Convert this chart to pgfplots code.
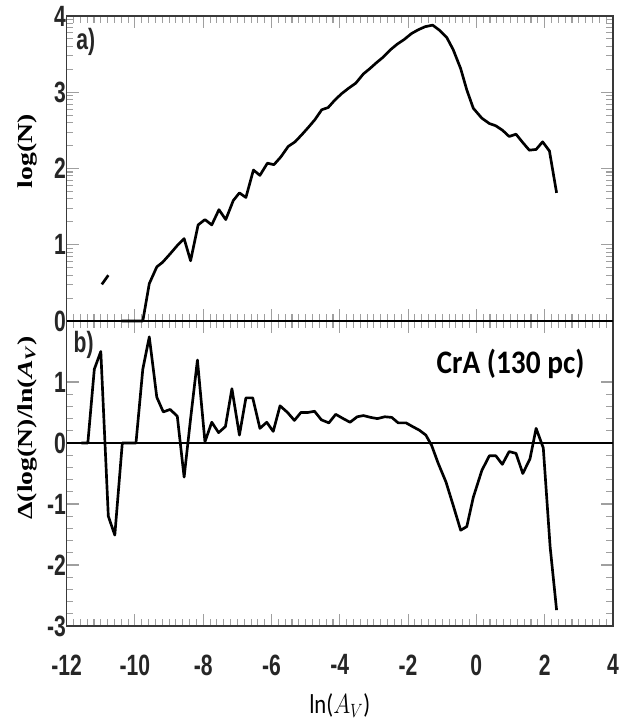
\documentclass[border=0pt]{standalone}
\usepackage{fontspec}
\usepackage{graphicx}
\usepackage{pgfplots}
\pgfplotsset{compat=1.18}
\newfontfamily\tickfont[FakeStretch=0.72]{Liberation Sans}
\newfontfamily\serfont{Liberation Serif}
\newfontfamily\calfont{Carlito}

\pgfplotsset{
  panel/.style={
    scale only axis, width=409.7pt, height=228.75pt,
    xmin=-12, xmax=4,
    xtick={-12,-10,...,4}, minor x tick num=9,
    tick align=inside,
    major tick length=9pt, minor tick length=5pt,
    tick style={gray!75, line width=0.8pt},
    axis line style={gray!45!black, line width=1pt},
    tick label style={font=\tickfont\bfseries\fontsize{22}{24}\selectfont, text=black!85},
    xticklabel style={yshift=-18pt},
    yticklabel style={xshift=3pt},
    /pgf/number format/assume math mode=true,
    clip=false,
  }
}

\begin{document}
\begin{tikzpicture}
% ---------------- bottom panel b)
\begin{axis}[panel,
  at={(0pt,0pt)}, anchor=south west,
  ymin=-3, ymax=2,
  ytick={-3,-2,-1,0,1}, minor y tick num=4,
  xlabel={\scalebox{1}[1.2]{\calfont\fontsize{17}{19}\selectfont ln($A_V$)}},
  xlabel style={at={(axis description cs:0.5,-0.262)}, anchor=center},
  ylabel={\scalebox{1.3}[1]{\serfont\bfseries\fontsize{16}{18}\selectfont Δ(log(N)/ln(\textit{A}\textsubscript{\textit{V}})}},
  ylabel style={at={(axis description cs:-0.0727,0.65)}, anchor=center},
]
\addplot[black, line width=1.6pt] coordinates {(-12,0) (4,0)};
\addplot[black, line width=2pt, line join=round] coordinates {
(-11.57,0) (-11.38,0) (-11.19,1.21) (-11.00,1.50) (-10.78,-1.20) (-10.59,-1.51)
(-10.37,0) (-9.97,0) (-9.77,1.21) (-9.58,1.74) (-9.36,0.75) (-9.17,0.51)
(-8.97,0.55) (-8.76,0.44) (-8.56,-0.56) (-8.37,0.40) (-8.17,1.36) (-7.95,0.02)
(-7.75,0.34) (-7.55,0.17) (-7.35,0.27) (-7.16,0.89) (-6.94,0.13) (-6.75,0.74)
(-6.55,0.74) (-6.34,0.24) (-6.14,0.34) (-5.95,0.19) (-5.75,0.61) (-5.53,0.50)
(-5.33,0.37) (-5.14,0.50) (-4.94,0.50) (-4.74,0.52) (-4.54,0.38) (-4.32,0.33)
(-4.12,0.47) (-3.90,0.40) (-3.70,0.34) (-3.49,0.43) (-3.31,0.45) (-3.10,0.42)
(-2.90,0.40) (-2.68,0.43) (-2.48,0.42) (-2.29,0.33) (-2.06,0.33) (-1.87,0.27)
(-1.67,0.21) (-1.48,0.13) (-1.31,-0.04) (-1.12,-0.33) (-0.89,-0.64) (-0.68,-1.02)
(-0.46,-1.43) (-0.28,-1.37) (-0.09,-0.89) (0.16,-0.45) (0.38,-0.21) (0.57,-0.21)
(0.76,-0.35) (0.96,-0.14) (1.16,-0.17) (1.36,-0.50) (1.57,-0.26) (1.75,0.24)
(1.96,-0.08) (2.16,-1.70) (2.35,-2.74)
};
\node[font=\tickfont\bfseries\fontsize{22}{24}\selectfont, text=black!85] at (rel axis cs:0.031,0.921) {b)};
\node at (axis cs:1.0,1.29) {\scalebox{1}[1.12]{\calfont\bfseries\fontsize{22}{24}\selectfont CrA (130 pc)}};
\end{axis}
% ---------------- top panel a)
\begin{axis}[panel,
  at={(0pt,228.75pt)}, anchor=south west,
  ymin=0, ymax=4,
  ytick={0,1,2,3,4},
  minor ytick={0.301,0.477,0.602,0.699,0.778,0.845,0.903,0.954,
               1.301,1.477,1.602,1.699,1.778,1.845,1.903,1.954,
               2.301,2.477,2.602,2.699,2.778,2.845,2.903,2.954,
               3.301,3.477,3.602,3.699,3.778,3.845,3.903,3.954},
  xticklabels={},
  ylabel={\scalebox{1.3}[1]{\serfont\bfseries\fontsize{16}{18}\selectfont log(N)}},
  ylabel style={at={(axis description cs:-0.0727,0.557)}, anchor=center},
]
\draw[black, line width=1.3pt] (rel axis cs:0,0) -- (rel axis cs:1,0);
\addplot[black, line width=2pt] coordinates {(-10.97,0.48) (-10.78,0.60)};
\addplot[black, line width=2pt, line join=round] coordinates {
(-10.39,0) (-9.77,0) (-9.58,0.49) (-9.36,0.71) (-9.19,0.77) (-8.97,0.88)
(-8.76,0.99) (-8.56,1.08) (-8.37,0.79) (-8.15,1.26) (-7.95,1.33) (-7.75,1.26)
(-7.54,1.46) (-7.34,1.33) (-7.12,1.58) (-6.94,1.68) (-6.75,1.62) (-6.53,1.98)
(-6.34,1.91) (-6.12,2.07) (-5.93,2.05) (-5.73,2.15) (-5.51,2.29) (-5.31,2.35)
(-5.12,2.44) (-4.92,2.54) (-4.73,2.64) (-4.53,2.77) (-4.34,2.80) (-4.14,2.90)
(-3.95,2.98) (-3.75,3.05) (-3.53,3.12) (-3.31,3.24) (-3.12,3.31) (-2.92,3.39)
(-2.73,3.46) (-2.51,3.56) (-2.32,3.63) (-2.12,3.69) (-1.90,3.77) (-1.70,3.82)
(-1.50,3.86) (-1.28,3.88) (-1.07,3.81) (-0.87,3.72) (-0.68,3.56) (-0.46,3.31)
(-0.28,3.03) (-0.09,2.79) (0.16,2.66) (0.38,2.59) (0.57,2.56) (0.77,2.50)
(0.96,2.42) (1.16,2.45) (1.36,2.34) (1.55,2.24) (1.75,2.25) (1.94,2.35)
(2.14,2.23) (2.35,1.68)
};
\node[font=\tickfont\bfseries\fontsize{22}{24}\selectfont, text=black!85] at (rel axis cs:0.035,0.915) {a)};
\end{axis}
\pgfresetboundingbox
\path[use as bounding box] (-50pt,-73.5pt) rectangle (426.2pt,469.5pt);
\end{tikzpicture}
\end{document}
